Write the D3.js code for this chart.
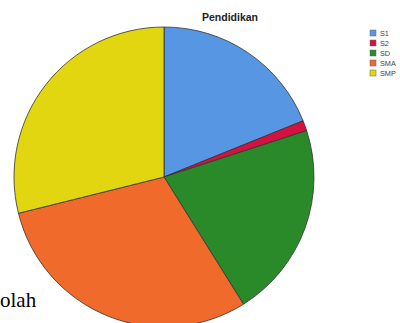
<!DOCTYPE html>
<html><head><meta charset="utf-8">
<script src="https://cdn.jsdelivr.net/npm/d3@7"></script>
<style>body{margin:0;background:#fff;overflow:hidden}svg{display:block}</style>
</head><body>
<svg id="c" width="400" height="323"></svg>
<script>
const categories = ["S1", "S2", "SD", "SMA", "SMP"];
const values = [17, 1, 19, 27, 26];
const colors = ["#5796e3", "#d5123f", "#2a8a2a", "#f06a2c", "#e2d610"];
const title = "Pendidikan";

const svg = d3.select("#c");
svg.append("text").attr("x", 0).attr("y", 307)
  .attr("font-family", "Liberation Serif, Times New Roman, serif")
  .attr("font-size", 21).attr("fill", "#000").text("olah");

const cx = 164, cy = 177, r = 150;
const pie = d3.pie().sort(null).value(d => d)(values);
const arc = d3.arc().innerRadius(0).outerRadius(r);
const g = svg.append("g").attr("transform", `translate(${cx},${cy})`);
g.selectAll("path").data(pie).join("path")
  .attr("d", arc).attr("fill", (d, i) => colors[i])
  .attr("stroke", "#333").attr("stroke-width", 0.8);

svg.append("text").attr("x", 230).attr("y", 21).attr("text-anchor", "middle")
  .attr("font-family", "Liberation Sans, Arial, sans-serif").attr("font-weight", "bold")
  .attr("font-size", 10.5).attr("fill", "#222").text(title);

const y = d3.scaleBand().domain(categories).range([28, 78]);
const lg = svg.append("g");
lg.selectAll("rect").data(categories).join("rect")
  .attr("x", 370).attr("y", d => y(d) + 2).attr("width", 6).attr("height", 6)
  .attr("fill", (d, i) => colors[i]).attr("stroke", "#666").attr("stroke-width", 0.5);
lg.selectAll("text").data(categories).join("text")
  .attr("x", 380).attr("y", d => y(d) + 8.3)
  .attr("font-family", "Liberation Sans, Arial, sans-serif").attr("font-size", 7.3)
  .attr("fill", "#444").text(d => d);
</script>
</body></html>
